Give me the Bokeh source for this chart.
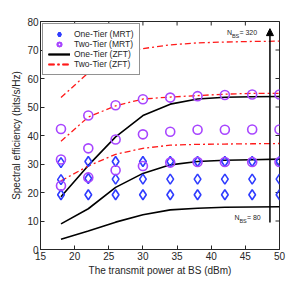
import math
from bokeh.plotting import figure
from bokeh.models import Arrow, NormalHead, Label, Range1d, FixedTicker
from bokeh.embed import file_html
from bokeh.resources import INLINE

power = [18, 22, 26, 30, 34, 38, 42, 46, 50]

one_mrt = [
    [30.5, 30.9, 30.9, 30.9, 30.9, 30.9, 30.9, 30.9, 30.9],
    [24.5, 24.9, 24.7, 24.7, 24.7, 24.7, 24.7, 24.7, 24.7],
    [19.2, 19.2, 19.2, 19.2, 19.2, 19.2, 19.2, 19.2, 19.2],
]
two_mrt = [
    [42.3, 47.0, 50.6, 52.7, 53.3, 53.8, 54.2, 54.4, 54.4],
    [31.6, 35.5, 38.6, 40.4, 41.3, 42.0, 42.0, 42.1, 42.1],
    [22.4, 25.3, 27.8, 29.3, 30.5, 30.7, 30.7, 30.7, 30.7],
]
one_zft = [
    [18.5, 29.5, 39.5, 47.0, 51.0, 52.8, 53.4, 53.6, 53.7],
    [9.0, 14.3, 21.8, 26.7, 29.7, 30.9, 31.3, 31.5, 31.7],
    [3.6, 6.5, 9.6, 12.2, 13.9, 14.5, 14.8, 14.9, 15.0],
]
two_zft = [
    [53.3, 62.0, 68.5, 70.5, 71.8, 72.5, 72.8, 73.0, 73.1],
    [38.0, 46.5, 50.4, 52.8, 53.5, 54.0, 54.5, 54.8, 54.8],
    [24.1, 29.3, 33.4, 35.5, 36.6, 36.9, 37.0, 37.1, 37.2],
]

x_ticks = [15, 20, 25, 30, 35, 40, 45, 50]
y_ticks = [0, 10, 20, 30, 40, 50, 60, 70, 80]
X_MIN, X_MAX, Y_MIN, Y_MAX = 15, 50, 0, 80

FONT = "Liberation Sans"
INK = "#262626"
BLUE = "#2f3cff"
PURPLE = "#a846ff"
RED = "#ff1a1a"

p = figure(width=300, height=278, x_range=Range1d(X_MIN, X_MAX), y_range=Range1d(Y_MIN, Y_MAX),
           output_backend="svg", toolbar_location=None,
           min_border_left=40, min_border_right=21, min_border_top=21, min_border_bottom=27)
p.xgrid.visible = False
p.ygrid.visible = False
p.outline_line_color = INK
p.outline_line_width = 1

for ax in (p.xaxis[0], p.yaxis[0]):
    ax.major_tick_in = 4
    ax.major_tick_out = 0
    ax.minor_tick_in = 0
    ax.minor_tick_out = 0
    ax.axis_line_color = INK
    ax.major_tick_line_color = INK
    ax.major_label_text_font = FONT
    ax.major_label_text_font_size = "10px"
    ax.major_label_text_color = INK
    ax.axis_label_text_font = FONT
    ax.axis_label_text_font_size = "10px"
    ax.axis_label_text_font_style = "normal"
    ax.axis_label_text_color = INK
    ax.major_label_standoff = 2
    ax.axis_label_standoff = 2

p.xaxis.ticker = FixedTicker(ticks=x_ticks)
p.yaxis.ticker = FixedTicker(ticks=y_ticks)
p.xaxis.axis_label = "The transmit power at BS (dBm)"
p.yaxis.axis_label = "Spectral efficiency (bits/s/Hz)"

# box ticks on top and right edges (half of each dash is clipped by the frame)
p.scatter(x_ticks, [Y_MAX] * len(x_ticks), marker="dash", size=8, angle=math.pi / 2,
          line_color=INK, line_width=1)
p.scatter([X_MAX] * len(y_ticks), y_ticks, marker="dash", size=8,
          line_color=INK, line_width=1)

for ys in one_zft:
    p.line(power, ys, line_color="black", line_width=1.6, legend_label="One-Tier (ZFT)")
for ys in two_zft:
    p.line(power, ys, line_color=RED, line_width=1.3, line_dash="6 3 2 3",
           legend_label="Two-Tier (ZFT)")
for ys in one_mrt:
    p.scatter(power, ys, marker="diamond", size=10, fill_color=None, line_color=BLUE,
              line_width=1.6, legend_label="One-Tier (MRT)")
for ys in two_mrt:
    p.scatter(power, ys, marker="circle", size=9, fill_color=None, line_color=PURPLE,
              line_width=1.6, legend_label="Two-Tier (MRT)")

items = {it.label.value: it for it in p.legend[0].items}
order = ["One-Tier (MRT)", "Two-Tier (MRT)", "One-Tier (ZFT)", "Two-Tier (ZFT)"]
lg = p.legend[0]
lg.items = [items[k] for k in order]
lg.location = "top_left"
lg.margin = 2
lg.padding = 5
lg.spacing = 0
lg.label_text_font = FONT
lg.label_text_font_size = "8.5px"
lg.label_text_color = INK
lg.label_height = 10
lg.glyph_height = 10
lg.glyph_width = 22
lg.label_standoff = 4
lg.border_line_color = INK
lg.border_line_width = 1
lg.background_fill_alpha = 1

p.add_layout(Arrow(end=NormalHead(size=7, fill_color="black", line_color="black"),
                   x_start=48.6, y_start=9.5, x_end=48.6, y_end=77.5,
                   line_color="black", line_width=1.5))

def nbs(x, y, val):
    p.add_layout(Label(x=x, y=y, text="N", text_font=FONT, text_font_size="7px",
                       text_color=INK))
    p.add_layout(Label(x=x, y=y, x_offset=5, y_offset=-2.5, text="BS", text_font=FONT,
                       text_font_size="5.5px", text_color=INK))
    p.add_layout(Label(x=x, y=y, x_offset=12.5, text="= " + val, text_font=FONT,
                       text_font_size="7px", text_color=INK))

nbs(42.3, 74.8, "320")
nbs(43.4, 10.0, "80")

open("out.html", "w").write(file_html(p, INLINE))
